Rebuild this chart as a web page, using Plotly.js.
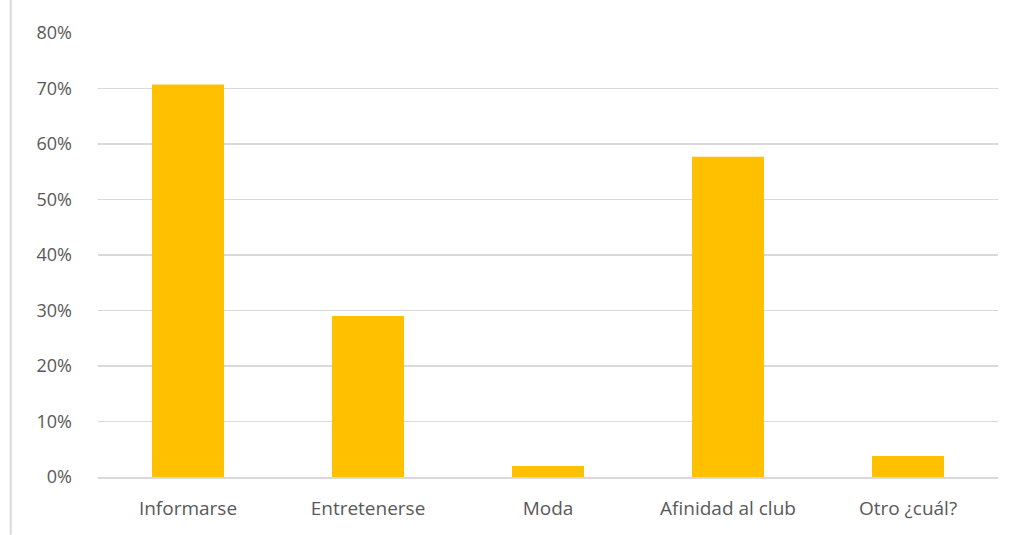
<!DOCTYPE html>
<html><head><meta charset="utf-8">
<script src="https://cdn.plot.ly/plotly-3.0.1.min.js"></script>
<style>html,body{margin:0;padding:0;background:#fff}#chart{width:1021px;height:535px}</style>
</head><body><div id="chart"></div>
<script>
const categories = ["Informarse", "Entretenerse", "Moda", "Afinidad al club", "Otro ¿cuál?"];
const values = [0.707, 0.29, 0.02, 0.577, 0.038];
const tickVals = [0, 0.1, 0.2, 0.3, 0.4, 0.5, 0.6, 0.7, 0.8];
const tickText = ["0%", "10%", "20%", "30%", "40%", "50%", "60%", "70%", "80%"];

const trace = {type: "bar", x: categories, y: values, marker: {color: "#FFC000"}, hoverinfo: "x+y"};
const layout = {
  width: 1021, height: 535,
  margin: {l: 98, r: 23, t: 33, b: 58},
  paper_bgcolor: "#fff", plot_bgcolor: "#fff",
  bargap: 0.6,
  showlegend: false,
  font: {family: "Open Sans, sans-serif", size: 18, color: "#595959"},
  xaxis: {showgrid: false, showline: true, linecolor: "#d9d9d9", linewidth: 1.5, ticks: "", tickfont: {family: "Open Sans, sans-serif", size: 19, color: "#595959"}, ticklabelstandoff: 14},
  yaxis: {range: [0, 0.8], tickvals: tickVals, ticktext: tickText, showgrid: true, gridcolor: "#d9d9d9", gridwidth: 1.5, zeroline: false, showline: false, ticks: "", tickfont: {family: "Open Sans, sans-serif", size: 18, color: "#595959"}, ticklabelstandoff: 25},
  shapes: [{type: "line", xref: "paper", yref: "paper", x0: -0.097, x1: -0.097, y0: -0.13, y1: 1.08, line: {color: "#d9d9d9", width: 2}}]
};
Plotly.newPlot("chart", [trace], layout, {displayModeBar: false, staticPlot: true});
</script></body></html>
